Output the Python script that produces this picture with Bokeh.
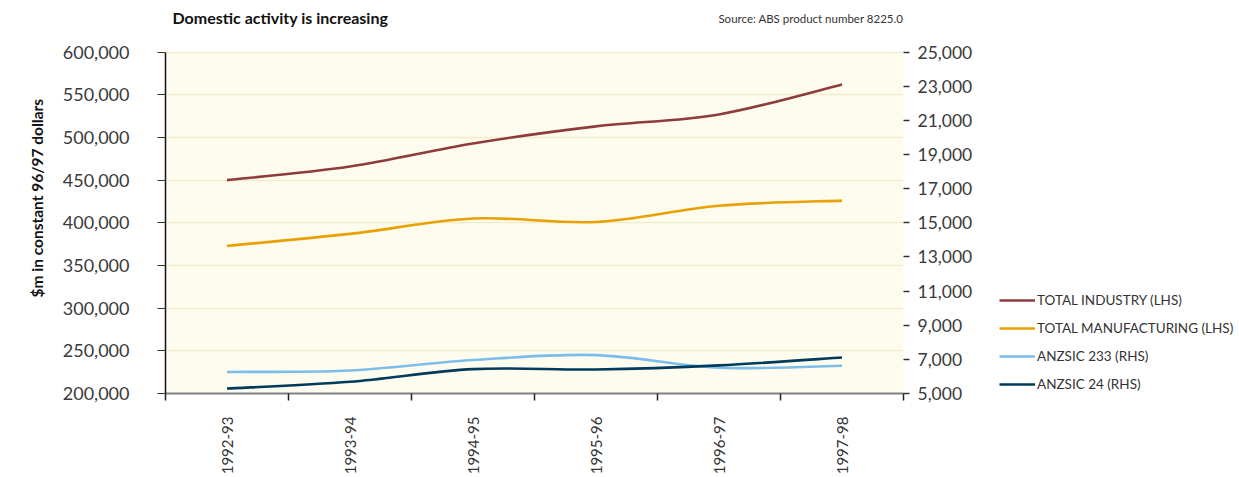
import math
from bokeh.plotting import figure
from bokeh.layouts import row
from bokeh.models import (ColumnDataSource, Range1d, LinearAxis, FixedTicker,
                          NumeralTickFormatter, Legend, LegendItem, Title,
                          Label, BoxAnnotation)
from bokeh.embed import file_html
from bokeh.resources import INLINE

# ---------------- data ----------------
years = ["1992-93", "1993-94", "1994-95", "1995-96", "1996-97", "1997-98"]
total_industry = [450000, 466000, 493000, 513000, 527000, 562000]        # LHS
total_manufacturing = [373000, 387000, 405000, 401000, 420000, 426000]   # LHS
anzsic_233 = [6260, 6350, 6960, 7250, 6510, 6630]                        # RHS
anzsic_24 = [5290, 5690, 6430, 6410, 6650, 7110]                         # RHS
left_ticks = [200000, 250000, 300000, 350000, 400000, 450000, 500000, 550000, 600000]
right_ticks = [5000, 7000, 9000, 11000, 13000, 15000, 17000, 19000, 21000, 23000, 25000]
series_names = ["TOTAL INDUSTRY (LHS)", "TOTAL MANUFACTURING (LHS)",
                "ANZSIC 233 (RHS)", "ANZSIC 24 (RHS)"]
title_text = "Domestic activity is increasing"
source_text = "Source: ABS product number 8225.0"
ylabel_text = "$m in constant 96/97 dollars"

colors = ["#8E3C3A", "#E8A100", "#7DBDEA", "#003A5C"]
FONT = "Lato"

# ---------------- layout constants ----------------
W_MAIN, W_LEG, H = 990, 249, 477
PLOT_PX = 344          # height of the 200,000-600,000 band in pixels
HEAD_PX = 52           # header band above it (inside the frame, for the titles)
L_LO, L_HI = left_ticks[0], left_ticks[-1]
R_LO, R_HI = right_ticks[0], right_ticks[-1]
l_top = L_HI + (L_HI - L_LO) * HEAD_PX / PLOT_PX
r_top = R_HI + (R_HI - R_LO) * HEAD_PX / PLOT_PX

p = figure(width=W_MAIN, height=H, output_backend="svg", toolbar_location=None,
           x_range=Range1d(0, len(years)), y_range=Range1d(L_LO, l_top),
           min_border_left=165, min_border_right=87, min_border_top=0,
           min_border_bottom=81)
p.title.visible = False
p.outline_line_color = None
p.background_fill_color = "white"
p.border_fill_color = "white"
p.extra_y_ranges = {"rhs": Range1d(R_LO, r_top)}

# pale plot-area background only over the value band
p.add_layout(BoxAnnotation(bottom=L_LO, top=L_HI, fill_color="#FEFCEE", fill_alpha=1,
                           line_color=None, level="image"))

# x axis: labels at category centres, ticks at category boundaries
xax = p.xaxis[0]
centres = [i + 0.5 for i in range(len(years))]
xax.ticker = FixedTicker(ticks=centres, minor_ticks=list(range(len(years) + 1)))
xax.major_label_overrides = {c: y for c, y in zip(centres, years)}
xax.major_label_orientation = math.pi / 2
xax.major_tick_out = 0
xax.major_tick_in = 0
xax.minor_tick_out = 7
xax.minor_tick_in = 0
xax.minor_tick_line_color = "#222222"
xax.minor_tick_line_width = 1.5
xax.axis_line_color = "#808080"
xax.axis_line_width = 2
xax.major_label_standoff = 16
xax.major_label_text_font = FONT
xax.major_label_text_font_size = "15px"
xax.major_label_text_color = "#333333"

# left axis
yax = p.yaxis[0]
yax.ticker = FixedTicker(ticks=left_ticks)
yax.bounds = (L_LO, L_HI)
yax.formatter = NumeralTickFormatter(format="0,0")
yax.axis_line_color = "#111111"
yax.axis_line_width = 1.5
yax.major_tick_out = 8
yax.major_tick_in = 0
yax.minor_tick_line_color = None
yax.major_tick_line_color = "#333333"
yax.major_label_standoff = 28
yax.major_label_text_font = FONT
yax.major_label_text_font_size = "18px"
yax.major_label_text_color = "#3a3a3a"

# right axis
rax = LinearAxis(y_range_name="rhs", ticker=FixedTicker(ticks=right_ticks),
                 formatter=NumeralTickFormatter(format="0,0"), bounds=(R_LO, R_HI))
rax.axis_line_color = None
rax.major_tick_out = 6
rax.major_tick_in = 0
rax.major_tick_line_color = "#333333"
rax.major_tick_line_width = 1.5
rax.minor_tick_line_color = None
rax.major_label_standoff = 8
rax.major_label_text_font = FONT
rax.major_label_text_font_size = "17.5px"
rax.major_label_text_color = "#3a3a3a"
p.add_layout(rax, "right")

p.xgrid.grid_line_color = None
p.ygrid.ticker = FixedTicker(ticks=left_ticks)
p.ygrid.grid_line_color = "#F2EBC9"
p.ygrid.grid_line_width = 1.5

# y-axis title as a left-side Title
p.add_layout(Title(text=ylabel_text, align="left", offset=96,
                   text_font=FONT, text_font_style="bold",
                   text_font_size="15.5px", text_color="#111111", standoff=28), "left")

# header texts (inside the frame's top band; screen units from frame left / bottom)
p.add_layout(Label(x=7, y=PLOT_PX + HEAD_PX - 20, x_units="screen", y_units="screen",
                   text=title_text, text_font=FONT, text_font_style="bold",
                   text_font_size="16px", text_color="#111111",
                   text_baseline="middle", text_align="left"))
p.add_layout(Label(x=738, y=PLOT_PX + HEAD_PX - 21, x_units="screen", y_units="screen",
                   text=source_text, text_font=FONT, text_font_size="11.5px",
                   text_color="#333333", text_baseline="middle", text_align="right"))


def smooth_source(values):
    """Cubic Bezier segments through the data points (Catmull-Rom style)."""
    xs = centres
    n = len(values)
    d = dict(x0=[], y0=[], x1=[], y1=[], cx0=[], cy0=[], cx1=[], cy1=[])
    for i in range(n - 1):
        xa, ya = (xs[i - 1], values[i - 1]) if i > 0 else (xs[i], values[i])
        xb, yb = xs[i], values[i]
        xc, yc = xs[i + 1], values[i + 1]
        xd, yd = (xs[i + 2], values[i + 2]) if i + 2 < n else (xc, yc)
        d["x0"].append(xb); d["y0"].append(yb)
        d["x1"].append(xc); d["y1"].append(yc)
        d["cx0"].append(xb + (xc - xa) / 6.0); d["cy0"].append(yb + (yc - ya) / 6.0)
        d["cx1"].append(xc - (xd - xb) / 6.0); d["cy1"].append(yc - (yd - yb) / 6.0)
    return ColumnDataSource(d)


series = [total_industry, total_manufacturing, anzsic_233, anzsic_24]
ranges = ["default", "default", "rhs", "rhs"]
for vals, col, rng in zip(series, colors, ranges):
    p.bezier(x0="x0", y0="y0", x1="x1", y1="y1", cx0="cx0", cy0="cy0",
             cx1="cx1", cy1="cy1", source=smooth_source(vals),
             line_color=col, line_width=2.6, y_range_name=rng)

# ---------------- legend panel (separate figure to the right) ----------------
# The key renderers carry the same series but lie outside this panel's view,
# so only their legend samples are visible.
lf = figure(width=W_LEG, height=H, output_backend="svg", toolbar_location=None,
            x_range=Range1d(-3, -2), y_range=Range1d(0, 1),
            x_axis_location=None, y_axis_location=None,
            min_border_left=0, min_border_right=0, min_border_top=0,
            min_border_bottom=81)
lf.title.visible = False
lf.outline_line_color = None
lf.xgrid.grid_line_color = None
lf.ygrid.grid_line_color = None
items = []
for vals, col, name in zip(series, colors, series_names):
    key = lf.line(x=centres, y=vals, line_color=col, line_width=2.6)
    items.append(LegendItem(label=name, renderers=[key]))
legend = Legend(items=items, location=(9, 1), orientation="vertical",
                border_line_color=None, background_fill_alpha=0,
                padding=0, margin=0, spacing=12, glyph_width=36,
                glyph_height=16, label_height=16, label_standoff=2,
                label_text_font=FONT, label_text_font_size="13.5px",
                label_text_color="#333333")
lf.add_layout(legend)

layout = row(p, lf, spacing=0)
open("out.html", "w").write(file_html(layout, INLINE))
